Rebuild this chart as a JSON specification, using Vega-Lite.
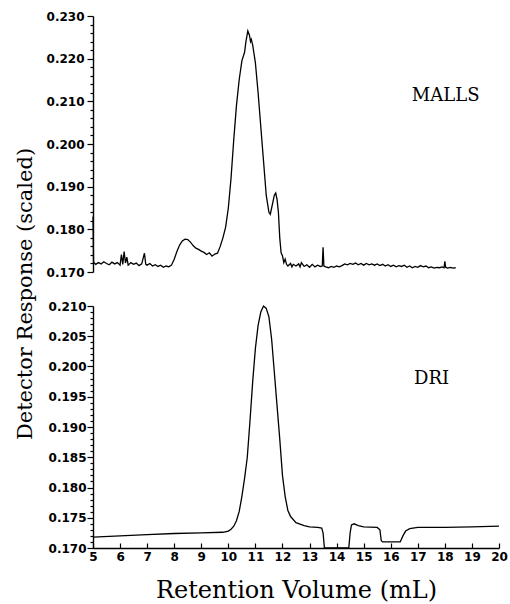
{
  "$schema": "https://vega.github.io/schema/vega-lite/v6.json",
  "background": "white",
  "padding": {"left": 15, "top": 10, "right": 2, "bottom": 0},
  "spacing": 22,
  "title": {"text": "Detector Response (scaled)", "orient": "left", "anchor": "middle", "font": "DejaVu Serif", "fontSize": 21, "fontWeight": "normal", "color": "#000", "offset": 10, "dx": 12},
  "config": {
    "view": {"stroke": null},
    "axis": {"grid": false, "domainColor": "#000", "tickColor": "#000", "labelColor": "#000", "titleColor": "#000", "domainWidth": 1.4, "tickWidth": 1.2, "labelFont": "DejaVu Sans", "labelFontWeight": "bold", "labelFontSize": 12, "labelOverlap": false}
  },
  "datasets": {
    "malls": [
      {"v": 5.0, "r": 0.1830}, {"v": 5.02, "r": 0.1723}, {"v": 5.1, "r": 0.1718}, {"v": 5.2, "r": 0.1722}, {"v": 5.3, "r": 0.1719}, {"v": 5.4, "r": 0.1724}, {"v": 5.5, "r": 0.1720}, {"v": 5.6, "r": 0.1717}, {"v": 5.7, "r": 0.1723}, {"v": 5.8, "r": 0.1719}, {"v": 5.9, "r": 0.1722}, {"v": 6.0, "r": 0.1716}, {"v": 6.05, "r": 0.1741}, {"v": 6.1, "r": 0.1718}, {"v": 6.15, "r": 0.1748}, {"v": 6.2, "r": 0.1721}, {"v": 6.25, "r": 0.1735}, {"v": 6.3, "r": 0.1716}, {"v": 6.4, "r": 0.1722}, {"v": 6.5, "r": 0.1718}, {"v": 6.6, "r": 0.1721}, {"v": 6.7, "r": 0.1715}, {"v": 6.8, "r": 0.1719}, {"v": 6.9, "r": 0.1744}, {"v": 6.95, "r": 0.1718}, {"v": 7.0, "r": 0.1716}, {"v": 7.1, "r": 0.1720}, {"v": 7.2, "r": 0.1714}, {"v": 7.3, "r": 0.1717}, {"v": 7.4, "r": 0.1713}, {"v": 7.5, "r": 0.1716}, {"v": 7.6, "r": 0.1711}, {"v": 7.7, "r": 0.1714}, {"v": 7.8, "r": 0.1712}, {"v": 7.9, "r": 0.1716}, {"v": 8.0, "r": 0.1730}, {"v": 8.1, "r": 0.1748}, {"v": 8.2, "r": 0.1763}, {"v": 8.3, "r": 0.1773}, {"v": 8.4, "r": 0.1777}, {"v": 8.5, "r": 0.1776}, {"v": 8.6, "r": 0.1770}, {"v": 8.7, "r": 0.1762}, {"v": 8.8, "r": 0.1756}, {"v": 8.9, "r": 0.1753}, {"v": 9.0, "r": 0.1749}, {"v": 9.1, "r": 0.1746}, {"v": 9.2, "r": 0.1741}, {"v": 9.3, "r": 0.1745}, {"v": 9.4, "r": 0.1737}, {"v": 9.5, "r": 0.1742}, {"v": 9.6, "r": 0.1744}, {"v": 9.7, "r": 0.1760}, {"v": 9.8, "r": 0.1780}, {"v": 9.9, "r": 0.1805}, {"v": 10.0, "r": 0.1850}, {"v": 10.1, "r": 0.1920}, {"v": 10.2, "r": 0.2010}, {"v": 10.3, "r": 0.2090}, {"v": 10.4, "r": 0.2150}, {"v": 10.5, "r": 0.2195}, {"v": 10.6, "r": 0.2215}, {"v": 10.65, "r": 0.2240}, {"v": 10.72, "r": 0.2265}, {"v": 10.78, "r": 0.2255}, {"v": 10.82, "r": 0.2240}, {"v": 10.85, "r": 0.2245}, {"v": 10.9, "r": 0.2232}, {"v": 11.0, "r": 0.2190}, {"v": 11.1, "r": 0.2120}, {"v": 11.2, "r": 0.2040}, {"v": 11.3, "r": 0.1960}, {"v": 11.4, "r": 0.1880}, {"v": 11.5, "r": 0.1840}, {"v": 11.55, "r": 0.1835}, {"v": 11.6, "r": 0.1850}, {"v": 11.7, "r": 0.1880}, {"v": 11.75, "r": 0.1885}, {"v": 11.8, "r": 0.1870}, {"v": 11.85, "r": 0.1840}, {"v": 11.9, "r": 0.1780}, {"v": 11.95, "r": 0.1745}, {"v": 12.0, "r": 0.1738}, {"v": 12.05, "r": 0.1722}, {"v": 12.1, "r": 0.1730}, {"v": 12.15, "r": 0.1718}, {"v": 12.2, "r": 0.1714}, {"v": 12.3, "r": 0.1720}, {"v": 12.35, "r": 0.1712}, {"v": 12.4, "r": 0.1718}, {"v": 12.5, "r": 0.1714}, {"v": 12.6, "r": 0.1719}, {"v": 12.65, "r": 0.1712}, {"v": 12.7, "r": 0.1722}, {"v": 12.8, "r": 0.1713}, {"v": 12.9, "r": 0.1717}, {"v": 13.0, "r": 0.1711}, {"v": 13.1, "r": 0.1718}, {"v": 13.2, "r": 0.1712}, {"v": 13.3, "r": 0.1716}, {"v": 13.4, "r": 0.1713}, {"v": 13.47, "r": 0.1714}, {"v": 13.5, "r": 0.1758}, {"v": 13.53, "r": 0.1714}, {"v": 13.6, "r": 0.1712}, {"v": 13.7, "r": 0.1710}, {"v": 13.8, "r": 0.1713}, {"v": 13.9, "r": 0.1711}, {"v": 14.0, "r": 0.1714}, {"v": 14.1, "r": 0.1712}, {"v": 14.2, "r": 0.1715}, {"v": 14.3, "r": 0.1719}, {"v": 14.4, "r": 0.1717}, {"v": 14.5, "r": 0.1720}, {"v": 14.6, "r": 0.1718}, {"v": 14.7, "r": 0.1721}, {"v": 14.8, "r": 0.1717}, {"v": 14.9, "r": 0.1720}, {"v": 15.0, "r": 0.1716}, {"v": 15.1, "r": 0.1720}, {"v": 15.2, "r": 0.1717}, {"v": 15.3, "r": 0.1719}, {"v": 15.4, "r": 0.1716}, {"v": 15.5, "r": 0.1719}, {"v": 15.6, "r": 0.1715}, {"v": 15.7, "r": 0.1718}, {"v": 15.8, "r": 0.1714}, {"v": 15.9, "r": 0.1717}, {"v": 16.0, "r": 0.1713}, {"v": 16.1, "r": 0.1716}, {"v": 16.2, "r": 0.1712}, {"v": 16.3, "r": 0.1715}, {"v": 16.4, "r": 0.1713}, {"v": 16.5, "r": 0.1716}, {"v": 16.6, "r": 0.1711}, {"v": 16.7, "r": 0.1714}, {"v": 16.8, "r": 0.1710}, {"v": 16.9, "r": 0.1713}, {"v": 17.0, "r": 0.1711}, {"v": 17.1, "r": 0.1715}, {"v": 17.2, "r": 0.1712}, {"v": 17.3, "r": 0.1714}, {"v": 17.4, "r": 0.1710}, {"v": 17.5, "r": 0.1712}, {"v": 17.6, "r": 0.1709}, {"v": 17.7, "r": 0.1711}, {"v": 17.8, "r": 0.1710}, {"v": 17.9, "r": 0.1712}, {"v": 17.97, "r": 0.1710}, {"v": 18.0, "r": 0.1725}, {"v": 18.03, "r": 0.1711}, {"v": 18.1, "r": 0.1709}, {"v": 18.2, "r": 0.1711}, {"v": 18.3, "r": 0.1709}, {"v": 18.4, "r": 0.1710}
    ],
    "dri": [
      {"v": 5.0, "r": 0.1718}, {"v": 6.0, "r": 0.1720}, {"v": 7.0, "r": 0.1722}, {"v": 8.0, "r": 0.1724}, {"v": 9.0, "r": 0.1725}, {"v": 9.8, "r": 0.1726}, {"v": 10.0, "r": 0.1728}, {"v": 10.1, "r": 0.1731}, {"v": 10.2, "r": 0.1736}, {"v": 10.3, "r": 0.1745}, {"v": 10.4, "r": 0.1760}, {"v": 10.5, "r": 0.1785}, {"v": 10.6, "r": 0.1815}, {"v": 10.7, "r": 0.1850}, {"v": 10.8, "r": 0.1910}, {"v": 10.9, "r": 0.1975}, {"v": 11.0, "r": 0.2030}, {"v": 11.1, "r": 0.2068}, {"v": 11.2, "r": 0.2090}, {"v": 11.3, "r": 0.2100}, {"v": 11.4, "r": 0.2096}, {"v": 11.5, "r": 0.2082}, {"v": 11.6, "r": 0.2045}, {"v": 11.7, "r": 0.1990}, {"v": 11.8, "r": 0.1935}, {"v": 11.9, "r": 0.1880}, {"v": 12.0, "r": 0.1820}, {"v": 12.1, "r": 0.1785}, {"v": 12.2, "r": 0.1762}, {"v": 12.3, "r": 0.1752}, {"v": 12.5, "r": 0.1742}, {"v": 12.8, "r": 0.1737}, {"v": 13.0, "r": 0.1735}, {"v": 13.3, "r": 0.1734}, {"v": 13.45, "r": 0.1733}, {"v": 13.5, "r": 0.1725}, {"v": 13.55, "r": 0.1700}, {"v": 14.45, "r": 0.1700}, {"v": 14.5, "r": 0.1725}, {"v": 14.55, "r": 0.1738}, {"v": 14.65, "r": 0.1740}, {"v": 14.8, "r": 0.1737}, {"v": 15.0, "r": 0.1735}, {"v": 15.5, "r": 0.1734}, {"v": 15.6, "r": 0.1730}, {"v": 15.65, "r": 0.1712}, {"v": 15.7, "r": 0.1710}, {"v": 16.35, "r": 0.1710}, {"v": 16.45, "r": 0.1720}, {"v": 16.55, "r": 0.1728}, {"v": 16.7, "r": 0.1732}, {"v": 17.0, "r": 0.1734}, {"v": 18.0, "r": 0.1734}, {"v": 19.0, "r": 0.1735}, {"v": 20.0, "r": 0.1736}
    ],
    "labTop": [{"v": 16.78, "r": 0.2101, "t": "MALLS"}],
    "labBot": [{"v": 16.86, "r": 0.1971, "t": "DRI"}]
  },
  "vconcat": [
    {
      "width": 406,
      "height": 256,
      "layer": [
        {
          "data": {"name": "malls"},
          "mark": {"type": "line", "color": "#000", "strokeWidth": 1.3},
          "encoding": {
            "x": {"field": "v", "type": "quantitative", "scale": {"domain": [5, 20], "nice": false, "zero": false}, "axis": null},
            "y": {"field": "r", "type": "quantitative", "scale": {"domain": [0.17, 0.23], "nice": false, "zero": false},
              "axis": {
                "values": [0.170,0.172,0.174,0.176,0.178,0.180,0.182,0.184,0.186,0.188,0.190,0.192,0.194,0.196,0.198,0.200,0.202,0.204,0.206,0.208,0.210,0.212,0.214,0.216,0.218,0.220,0.222,0.224,0.226,0.228,0.230],
                "tickCount": 200,
                "labelExpr": "round(datum.value*1000) % 10 == 0 ? format(datum.value, '.3f') : ''",
                "tickSize": {"condition": {"test": "round(datum.value*1000) % 10 == 0", "value": 6}, "value": 3},
                "labelPadding": 3,
                "labelOverlap": false,
                "title": null
              }
            }
          }
        },
        {
          "data": {"name": "labTop"},
          "mark": {"type": "text", "font": "DejaVu Serif", "fontSize": 18, "align": "left", "baseline": "alphabetic", "color": "#000"},
          "encoding": {
            "x": {"field": "v", "type": "quantitative"},
            "y": {"field": "r", "type": "quantitative"},
            "text": {"field": "t"}
          }
        }
      ]
    },
    {
      "width": 406,
      "height": 242,
      "layer": [
        {
          "data": {"name": "dri"},
          "mark": {"type": "line", "color": "#000", "strokeWidth": 1.3},
          "encoding": {
            "x": {"field": "v", "type": "quantitative", "scale": {"domain": [5, 20], "nice": false, "zero": false},
              "axis": {
                "values": [5,6,7,8,9,10,11,12,13,14,15,16,17,18,19,20],
                "tickCount": 100,
                "format": "d",
                "tickSize": -5, "labelPadding": 8, "labelFlush": false, "labelOverlap": false,
                "title": "Retention Volume (mL)",
                "titleFont": "DejaVu Serif", "titleFontSize": 24, "titleFontWeight": "normal", "titlePadding": 16
              }
            },
            "y": {"field": "r", "type": "quantitative", "scale": {"domain": [0.17, 0.21], "nice": false, "zero": false},
              "axis": {
                "values": [0.170,0.171,0.172,0.173,0.174,0.175,0.176,0.177,0.178,0.179,0.180,0.181,0.182,0.183,0.184,0.185,0.186,0.187,0.188,0.189,0.190,0.191,0.192,0.193,0.194,0.195,0.196,0.197,0.198,0.199,0.200,0.201,0.202,0.203,0.204,0.205,0.206,0.207,0.208,0.209,0.210],
                "tickCount": 200,
                "labelExpr": "round(datum.value*1000) % 5 == 0 ? format(datum.value, '.3f') : ''",
                "tickSize": {"condition": {"test": "round(datum.value*1000) % 5 == 0", "value": 6}, "value": 3},
                "labelPadding": 1,
                "labelOverlap": false,
                "title": null
              }
            }
          }
        },
        {
          "data": {"name": "labBot"},
          "mark": {"type": "text", "font": "DejaVu Serif", "fontSize": 18, "align": "left", "baseline": "alphabetic", "color": "#000"},
          "encoding": {
            "x": {"field": "v", "type": "quantitative"},
            "y": {"field": "r", "type": "quantitative"},
            "text": {"field": "t"}
          }
        }
      ]
    }
  ]
}
